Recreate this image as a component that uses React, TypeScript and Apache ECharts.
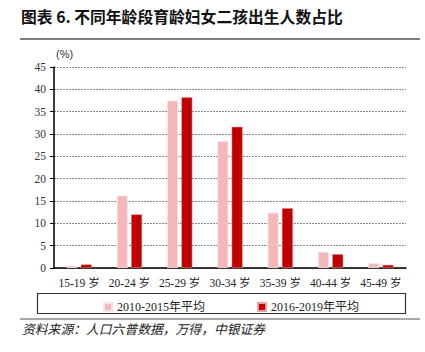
import React, { useEffect, useRef } from "react";
import * as echarts from "echarts";

const categories = ["15-19 岁", "20-24 岁", "25-29 岁", "30-34 岁", "35-39 岁", "40-44 岁", "45-49 岁"];
const series2010 = [0.5, 16.2, 37.5, 28.4, 12.4, 3.6, 1.1];
const series2016 = [0.8, 12.0, 38.2, 31.6, 13.4, 3.1, 0.7];
const seriesNames = ["2010-2015年平均", "2016-2019年平均"];
const title = "图表 6. 不同年龄段育龄妇女二孩出生人数占比";
const source = "资料来源：人口六普数据，万得，中银证券";

const serif = '"Liberation Serif", "Times New Roman", "Noto Sans CJK SC", serif';

export default function App() {
  const ref = useRef<HTMLDivElement>(null);
  useEffect(() => {
    const chart = echarts.init(ref.current!, null, { renderer: "svg" });
    chart.setOption({
      animation: false,
      backgroundColor: "#fff",
      grid: { left: 54, right: 19, top: 67, bottom: 84 },
      legend: {
        data: seriesNames,
        left: 98,
        top: 296,
        itemWidth: 8,
        itemHeight: 8,
        itemGap: 52,
        icon: "rect",
        textStyle: { fontFamily: serif, fontSize: 12, color: "#222" },
      },
      xAxis: {
        type: "category",
        data: categories,
        axisLine: { lineStyle: { color: "#000", width: 1.5 } },
        axisTick: { alignWithLabel: false, length: 4, lineStyle: { color: "#000" } },
        axisLabel: { interval: 0, fontFamily: serif, fontSize: 11.5, color: "#222", margin: 9 },
      },
      yAxis: {
        type: "value",
        min: 0,
        max: 45,
        interval: 5,
        axisLine: { show: true, lineStyle: { color: "#000", width: 1.5 } },
        axisTick: { show: true, length: 4, inside: false, lineStyle: { color: "#000" } },
        axisLabel: { fontFamily: serif, fontSize: 11.5, color: "#333", margin: 8 },
        splitLine: { lineStyle: { color: "#888", type: [2, 1], width: 1 } },
      },
      series: [
        {
          name: seriesNames[0],
          type: "bar",
          data: series2010,
          barWidth: 11,
          barGap: "30%",
          itemStyle: { color: "#F4B8B8", borderColor: "#FBE3E3", borderWidth: 0.8 },
        },
        {
          name: seriesNames[1],
          type: "bar",
          data: series2016,
          barWidth: 11,
          itemStyle: { color: "#C00000", borderColor: "#E8A0A0", borderWidth: 0.5 },
        },
      ],
      graphic: [
        {
          type: "text",
          left: 21,
          top: 9,
          style: {
            text: title,
            font: 'bold 15.8px "Noto Sans CJK SC", sans-serif',
            fill: "#111",
          },
        },
        {
          type: "line",
          shape: { x1: 20, y1: 39, x2: 420, y2: 39 },
          style: { stroke: "#555", lineWidth: 1.5 },
        },
        {
          type: "text",
          left: 56,
          top: 48,
          style: { text: "(%)", font: '11px "Liberation Sans", Arial, sans-serif', fill: "#333" },
        },
        {
          type: "rect",
          shape: { x: 37.5, y: 293.5, width: 368, height: 20 },
          style: { fill: "none", stroke: "#333", lineWidth: 1.2 },
        },
        {
          type: "line",
          shape: { x1: 20, y1: 319, x2: 420, y2: 319 },
          style: { stroke: "#555", lineWidth: 1.2 },
        },
        {
          type: "text",
          left: 22,
          top: 322,
          style: {
            text: source,
            font: 'italic 12.8px "Noto Sans CJK SC", sans-serif',
            fill: "#222",
          },
        },
      ],
    });
    return () => chart.dispose();
  }, []);
  return <div ref={ref} style={{ width: 425, height: 352, position: "absolute", left: 0, top: 0 }} />;
}
